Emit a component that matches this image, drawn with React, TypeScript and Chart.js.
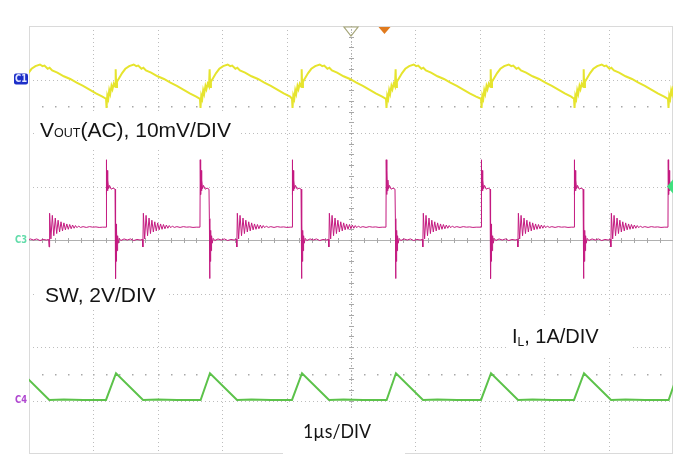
import React, { useEffect, useRef } from "react";
import { Chart, registerables } from "chart.js";

Chart.register(...registerables);

// Time axis: µs (1 µs/DIV, 10 divisions); vertical axis: screen divisions (8 divisions)
const X_DIVS = [0, 1, 2, 3, 4, 5, 6, 7, 8, 9, 10];
const Y_DIVS = [-4, -3, -2, -1, 0, 1, 2, 3, 4];

// SW rising-edge instants (µs)
const EDGE_TIMES = [-0.26, 1.196, 2.655, 4.084, 5.543, 7.019, 8.463, 9.922];

// One switching cycle of each trace: time after the edge (µs) and level (div)
const VOUT_T = [0, 0.008, 0.02, 0.035, 0.05, 0.065, 0.085, 0.1, 0.12, 0.14, 0.15, 0.158, 0.17, 0.2, 0.25, 0.3, 0.36, 0.43, 0.47, 0.5, 0.55, 0.58, 0.62, 0.7, 0.8, 0.9, 1.0, 1.1, 1.2, 1.3, 1.4];
const VOUT_V = [2.64, 2.47, 2.7, 2.64, 2.8, 2.73, 2.88, 2.82, 2.92, 2.87, 3.19, 2.86, 2.96, 3.02, 3.12, 3.2, 3.25, 3.28, 3.25, 3.26, 3.2, 3.22, 3.17, 3.13, 3.06, 3.01, 2.94, 2.88, 2.81, 2.74, 2.68];

const SW_T = [0, 0.004, 0.01, 0.016, 0.022, 0.03, 0.04, 0.055, 0.08, 0.11, 0.14, 0.146, 0.15, 0.155, 0.16, 0.166, 0.172, 0.18, 0.19, 0.205, 0.23, 0.28, 0.33, 0.38, 0.43, 0.48, 0.53, 0.565, 0.572, 0.58, 0.6, 0.622, 0.645, 0.668, 0.69, 0.712, 0.735, 0.757, 0.78, 0.802, 0.825, 0.847, 0.87, 0.892, 0.915, 0.937, 0.96, 0.982, 1.005, 1.03, 1.06, 1.1, 1.15, 1.2, 1.25, 1.3, 1.35, 1.4];
const SW_V = [0.24, 1.5, 0.85, 1.3, 0.92, 1.12, 0.96, 1.02, 0.95, 0.97, 0.95, 0.4, -0.72, 0.3, -0.4, 0.18, -0.2, 0.08, -0.06, 0.03, -0.01, 0.02, 0.0, 0.02, -0.01, 0.01, 0.0, 0.01, -0.13, 0.5, 0.02, 0.46, 0.08, 0.41, 0.12, 0.37, 0.15, 0.34, 0.17, 0.32, 0.19, 0.3, 0.2, 0.29, 0.21, 0.28, 0.22, 0.27, 0.23, 0.26, 0.235, 0.25, 0.235, 0.25, 0.24, 0.245, 0.235, 0.24];

const IL_T = [0, 0.01, 0.155, 0.575, 0.8, 1.1, 1.4];
const IL_V = [-2.99, -2.99, -2.49, -2.99, -2.98, -2.99, -2.99];

function buildTrace(t: number[], v: number[]) {
  const pts: { x: number; y: number }[] = [];
  EDGE_TIMES.forEach((e) => t.forEach((dt, i) => pts.push({ x: e + dt, y: v[i] })));
  return pts;
}

const scopePlugin = {
  id: "scope",
  beforeDatasetsDraw(chart: any) {
    const { ctx, chartArea: a, scales } = chart;
    const xs = scales.x;
    const ys = scales.y;
    ctx.save();
    ctx.fillStyle = "#ffffff";
    ctx.fillRect(0, 0, chart.width, chart.height);
    // dotted grid
    ctx.lineWidth = 1;
    ctx.strokeStyle = "#bdbdbd";
    ctx.setLineDash([1, 3]);
    X_DIVS.forEach((v) => {
      if (v === 0 || v === 10) return;
      const px = Math.round(xs.getPixelForValue(v)) + 0.5;
      ctx.beginPath();
      ctx.moveTo(px, a.top);
      ctx.lineTo(px, a.bottom);
      ctx.stroke();
    });
    Y_DIVS.forEach((v) => {
      if (v === -4 || v === 4 || v === 0) return;
      const py = Math.round(ys.getPixelForValue(v)) + 0.5;
      ctx.beginPath();
      ctx.moveTo(a.left, py);
      ctx.lineTo(a.right, py);
      ctx.stroke();
    });
    ctx.setLineDash([]);
    // border
    ctx.strokeStyle = "#dadada";
    ctx.strokeRect(a.left + 0.5, a.top + 0.5, a.width - 1, a.height - 1);
    // centre lines
    ctx.strokeStyle = "#b0b0b0";
    const cy = Math.round(ys.getPixelForValue(0)) + 0.5;
    ctx.beginPath();
    ctx.moveTo(a.left, cy);
    ctx.lineTo(a.right, cy);
    ctx.stroke();
    const cx = Math.round(xs.getPixelForValue(5)) + 0.5;
    ctx.setLineDash([1, 2]);
    ctx.beginPath();
    ctx.moveTo(cx, a.top);
    ctx.lineTo(cx, a.bottom);
    ctx.stroke();
    ctx.setLineDash([]);
    // minor ticks
    ctx.fillStyle = "#a8a8a8";
    for (let i = 1; i < 50; i++) {
      const px = Math.round(xs.getPixelForValue(i / 5));
      ctx.fillRect(px, cy - 2.5, 1, 5);
      ctx.fillRect(px, Math.round(ys.getPixelForValue(2.5)), 1.5, 1.5);
      ctx.fillRect(px, Math.round(ys.getPixelForValue(-2.5)), 1.5, 1.5);
    }
    for (let i = 1; i < 40; i++) {
      const py = Math.round(ys.getPixelForValue(-4 + i / 5));
      ctx.fillRect(cx - 2.5, py, 5, 1);
    }
    // label boxes
    ctx.fillStyle = "#ffffff";
    ctx.fillRect(36, 112, 205, 36);
    ctx.fillRect(37, 281, 131, 28);
    ctx.fillRect(507, 318, 125, 40);
    ctx.fillRect(283, 408, 122, 46);
    // labels
    ctx.fillStyle = "#141414";
    ctx.textBaseline = "alphabetic";
    ctx.textAlign = "left";
    let x = 40;
    ctx.font = "21px 'Liberation Sans', Arial, sans-serif";
    ctx.fillText("V", x, 137);
    x += ctx.measureText("V").width;
    ctx.font = "12.5px 'Liberation Sans', Arial, sans-serif";
    ctx.fillText("OUT", x, 137);
    x += ctx.measureText("OUT").width;
    ctx.font = "21px 'Liberation Sans', Arial, sans-serif";
    ctx.fillText("(AC), 10mV/DIV", x, 137);
    ctx.fillText("SW, 2V/DIV", 45, 302);
    x = 512;
    ctx.font = "20px 'Liberation Sans', Arial, sans-serif";
    ctx.fillText("I", x, 343);
    x += ctx.measureText("I").width;
    ctx.font = "12px 'Liberation Sans', Arial, sans-serif";
    ctx.fillText("L", x, 346);
    x += ctx.measureText("L").width;
    ctx.font = "20px 'Liberation Sans', Arial, sans-serif";
    ctx.fillText(", 1A/DIV", x, 343);
    ctx.font = "20px Lato, 'Open Sans', sans-serif";
    ctx.fillText("1µs/DIV", 303, 438, 68);
    ctx.restore();
  },
  afterDatasetsDraw(chart: any) {
    const { ctx, chartArea: a, scales } = chart;
    const xs = scales.x;
    const ys = scales.y;
    ctx.save();
    // channel markers
    const y1 = ys.getPixelForValue(3);
    ctx.fillStyle = "#1c2fc8";
    ctx.beginPath();
    ctx.roundRect(14, y1 - 6, 14, 11, 2);
    ctx.fill();
    ctx.fillStyle = "#e4e8ff";
    ctx.font = "bold 10px 'DejaVu Sans Condensed', 'DejaVu Sans', sans-serif";
    ctx.textAlign = "center";
    ctx.textBaseline = "middle";
    ctx.fillText("C1", 21, y1, 12);
    ctx.fillStyle = "#62dcaa";
    ctx.font = "bold 10px 'DejaVu Sans Condensed', 'DejaVu Sans', sans-serif";
    ctx.fillText("C3", 21, ys.getPixelForValue(0), 12);
    ctx.fillStyle = "#b048d0";
    ctx.fillText("C4", 21, ys.getPixelForValue(-3), 12);
    // trigger position marker
    const tx = xs.getPixelForValue(5);
    ctx.strokeStyle = "#a6a67a";
    ctx.lineWidth = 1.2;
    ctx.beginPath();
    ctx.moveTo(tx - 7, a.top + 1);
    ctx.lineTo(tx + 7, a.top + 1);
    ctx.lineTo(tx, a.top + 10);
    ctx.closePath();
    ctx.stroke();
    const ox = xs.getPixelForValue(5.52);
    ctx.fillStyle = "#e07a1e";
    ctx.beginPath();
    ctx.moveTo(ox - 6, a.top + 1);
    ctx.lineTo(ox + 6, a.top + 1);
    ctx.lineTo(ox, a.top + 8);
    ctx.closePath();
    ctx.fill();
    // trigger level marker
    const ly = ys.getPixelForValue(1);
    ctx.fillStyle = "#3fe07e";
    ctx.beginPath();
    ctx.moveTo(a.right, ly - 7);
    ctx.lineTo(a.right, ly + 7);
    ctx.lineTo(a.right - 6, ly);
    ctx.closePath();
    ctx.fill();
    ctx.restore();
  },
};

export default function App() {
  const ref = useRef<HTMLCanvasElement | null>(null);
  useEffect(() => {
    if (!ref.current) return;
    const chart = new Chart(ref.current, {
      type: "scatter",
      data: {
        datasets: [
          {
            label: "VOUT",
            data: buildTrace(VOUT_T, VOUT_V),
            showLine: true,
            borderColor: "#e6e42e",
            borderWidth: 2,
            pointRadius: 0,
            tension: 0,
          },
          {
            label: "SW",
            data: buildTrace(SW_T, SW_V),
            showLine: true,
            borderColor: "#c41a80",
            borderWidth: 1,
            pointRadius: 0,
            tension: 0,
          },
          {
            label: "IL",
            data: buildTrace(IL_T, IL_V),
            showLine: true,
            borderColor: "#5cc24a",
            borderWidth: 2,
            pointRadius: 0,
            tension: 0,
          },
        ],
      },
      options: {
        animation: false,
        responsive: false,
        devicePixelRatio: 1,
        layout: { padding: { left: 29, top: 26, right: 18, bottom: 14 } },
        scales: {
          x: { type: "linear", min: 0, max: 10, display: false },
          y: { type: "linear", min: -4, max: 4, display: false },
        },
        plugins: { legend: { display: false }, tooltip: { enabled: false } },
      },
      plugins: [scopePlugin],
    });
    return () => chart.destroy();
  }, []);
  return (
    <div style={{ position: "fixed", left: 0, top: 0, width: 691, height: 468, background: "#fff" }}>
      <canvas ref={ref} width={691} height={468} />
    </div>
  );
}
